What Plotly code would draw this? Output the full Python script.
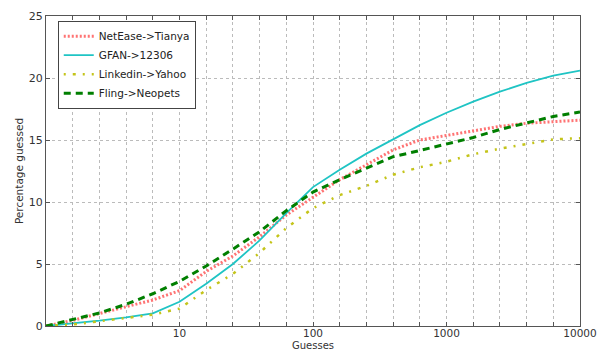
import plotly.graph_objects as go

# x positions: 10^(k/5), k = 0..20
guesses = [10 ** (k / 5) for k in range(21)]

netease_tianya = [0, 0.45, 1.0, 1.55, 2.1, 2.85, 4.4, 5.65, 7.2, 8.95, 10.4,
                  11.8, 13.0, 14.2, 15.0, 15.35, 15.7, 16.1, 16.35, 16.5, 16.6]
gfan_12306 = [0, 0.2, 0.43, 0.7, 1.02, 1.95, 3.4, 5.0, 6.9, 9.1, 11.2,
              12.6, 13.9, 15.05, 16.2, 17.2, 18.1, 18.9, 19.6, 20.2, 20.6]
linkedin_yahoo = [0, 0.12, 0.38, 0.62, 0.92, 1.4, 2.9, 4.2, 5.9, 7.9, 9.5,
                  10.55, 11.3, 12.2, 12.8, 13.25, 13.85, 14.3, 14.7, 15.05, 15.15]
fling_neopets = [0, 0.5, 1.05, 1.75, 2.6, 3.6, 4.84, 6.2, 7.6, 9.3, 10.8,
                 11.8, 12.7, 13.65, 14.15, 14.7, 15.2, 15.85, 16.4, 16.9, 17.25]

x_tick_vals = guesses
x_tick_text = ["" if k % 5 else str(int(round(10 ** (k / 5)))) for k in range(21)]
x_tick_text[0] = ""
y_tick_vals = [0, 5, 10, 15, 20, 25]

fig = go.Figure()
fig.add_trace(go.Scatter(x=guesses, y=netease_tianya, mode="lines", name="NetEase->Tianya",
                         line=dict(color="#ff7373", width=3, dash="2px,2px")))
fig.add_trace(go.Scatter(x=guesses, y=gfan_12306, mode="lines", name="GFAN->12306",
                         line=dict(color="#1fc4c4", width=1.8)))
fig.add_trace(go.Scatter(x=guesses, y=linkedin_yahoo, mode="lines", name="Linkedin->Yahoo",
                         line=dict(color="#c4c41a", width=2.5, dash="2px,7px,3px,7px")))
fig.add_trace(go.Scatter(x=guesses, y=fling_neopets, mode="lines", name="Fling->Neopets",
                         line=dict(color="#007f00", width=3, dash="7px,5px")))

axis_common = dict(showline=True, linecolor="#555555", linewidth=1.2, mirror="ticks",
                   ticks="inside", ticklen=4, tickcolor="#555555", automargin=False,
                   showgrid=True, gridcolor="#bbbbbb", griddash="dot", gridwidth=1,
                   zeroline=False, tickfont=dict(size=11, color="#333333"))

fig.update_xaxes(type="log", range=[0, 4], tickvals=x_tick_vals, ticktext=x_tick_text,
                 ticklabelstandoff=-3, **axis_common)
fig.update_xaxes(tickfont=dict(size=10.5))
fig.update_yaxes(range=[0, 25], tickvals=y_tick_vals,
                 title=dict(text="Percentage guessed", font=dict(size=10.5, color="#333333"), standoff=3),
                 **axis_common)

fig.add_annotation(text="Guesses", xref="paper", yref="paper", x=0.5, y=0,
                   xanchor="center", yanchor="middle", yshift=-19, showarrow=False,
                   borderpad=0, font=dict(size=10, color="#333333"))

# the page body adds an 8px offset; compensate in size and margins
fig.update_layout(
    width=600, height=344,
    margin=dict(l=38, r=28, t=8, b=26),
    paper_bgcolor="white", plot_bgcolor="white",
    font=dict(family="DejaVu Sans", color="#333333"),
    legend=dict(x=0.022, y=0.985, xanchor="left", yanchor="top",
                bordercolor="#444444", borderwidth=1, bgcolor="white",
                font=dict(size=10.5, color="#222222"), itemwidth=30,
                tracegroupgap=0),
    showlegend=True,
)

fig.write_html("out.html")
